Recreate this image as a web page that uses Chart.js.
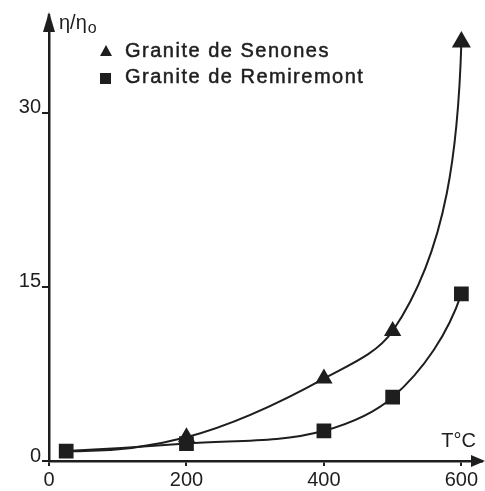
<!DOCTYPE html>
<html>
<head>
<meta charset="utf-8">
<script src="https://cdn.jsdelivr.net/npm/chart.js@4.4.1/dist/chart.umd.min.js"></script>
<style>
  html, body { margin: 0; padding: 0; background: #fff; }
  #wrap { width: 485px; height: 491px; }
</style>
</head>
<body>
<div id="wrap"><canvas id="viscChart"></canvas></div>
<script>
// temperature (°C) and relative viscosity
const tempSenones = [25, 200, 400, 500, 600];
const viscSenones = [0.86, 2.05, 7.1, 11.2, 36.1];
const tempRemiremont = [25, 200, 400, 500, 600];
const viscRemiremont = [0.86, 1.5, 2.6, 5.5, 14.4];
const xTicks = [0, 200, 400, 600];
const yTicks = [0, 15, 30];
const seriesNames = ['Granite de Senones', 'Granite de Remiremont'];

const ink = '#1e1e1e';
const font = 'Liberation Sans, Arial, sans-serif';

const toPoints = (xs, ys) => xs.map((x, i) => ({x: x, y: ys[i]}));

// french-curve look: tangent = mean of the two chord angles,
// end tangents mirrored about the last chord
const smoothCurve = {
    id: 'smoothCurve',
    beforeDatasetDraw: (chart, args) => {
        const meta = args.meta;
        const pts = meta.data;
        const n = pts.length;
        if (n < 3) return;
        const chord = (a, b) => Math.atan2(b.y - a.y, b.x - a.x);
        const ang = [];
        for (let i = 1; i < n - 1; i++) {
            ang[i] = (chord(pts[i - 1], pts[i]) + chord(pts[i], pts[i + 1])) / 2;
        }
        ang[0] = 2 * chord(pts[0], pts[1]) - ang[1];
        ang[n - 1] = Math.max(2 * chord(pts[n - 2], pts[n - 1]) - ang[n - 2], -Math.PI / 2 + 0.03);
        pts.forEach((p, i) => {
            const back = i > 0 ? Math.hypot(p.x - pts[i - 1].x, p.y - pts[i - 1].y) / 3 : 0;
            const fwd = i < n - 1 ? Math.hypot(pts[i + 1].x - p.x, pts[i + 1].y - p.y) / 3 : 0;
            p.cp1x = p.x - Math.cos(ang[i]) * back;
            p.cp1y = p.y - Math.sin(ang[i]) * back;
            p.cp2x = p.x + Math.cos(ang[i]) * fwd;
            p.cp2y = p.y + Math.sin(ang[i]) * fwd;
        });
        meta.dataset._pointsUpdated = true;
    }
};

const axisDecor = {
    id: 'axisDecor',
    afterDraw: (chart) => {
        const {ctx, chartArea: {left, right, top, bottom}} = chart;
        ctx.save();
        ctx.fillStyle = ink;
        ctx.strokeStyle = ink;
        ctx.lineWidth = 2.5;
        // y axis extension and arrow
        ctx.beginPath();
        ctx.moveTo(left, top);
        ctx.lineTo(left, top - 6);
        ctx.stroke();
        ctx.beginPath();
        ctx.moveTo(left, top - 8);
        ctx.lineTo(left - 6, top + 12);
        ctx.lineTo(left + 6, top + 12);
        ctx.closePath();
        ctx.fill();
        // x axis arrow
        ctx.beginPath();
        ctx.moveTo(right + 3, bottom);
        ctx.lineTo(right - 11, bottom - 6);
        ctx.lineTo(right - 11, bottom + 6);
        ctx.closePath();
        ctx.fill();

        // axis titles
        ctx.font = '20px ' + font;
        ctx.textBaseline = 'alphabetic';
        ctx.textAlign = 'left';
        ctx.fillText('η/η', left + 10, top + 9);
        const w = ctx.measureText('η/η').width;
        ctx.font = '16px ' + font;
        ctx.fillText('o', left + 11 + w, top + 13);

        ctx.font = '20px ' + font;
        ctx.textAlign = 'right';
        ctx.fillText('T°C', right - 6, bottom - 14);

        // legend
        ctx.font = '20px ' + font;
        ctx.letterSpacing = '1.5px';
        ctx.textAlign = 'left';
        ctx.lineWidth = 0.5;
        chart.data.datasets.forEach((ds, i) => {
            const y = 52 + i * 26;
            ctx.beginPath();
            if (ds.pointStyle === 'triangle') {
                ctx.moveTo(106, y - 7);
                ctx.lineTo(112, y + 4);
                ctx.lineTo(100, y + 4);
                ctx.closePath();
            } else {
                ctx.rect(100, y - 5, 11, 11);
            }
            ctx.fill();
            ctx.fillText(ds.label, 125, y + 5);
            ctx.strokeText(ds.label, 125, y + 5);
        });
        ctx.restore();
    }
};

Chart.defaults.font.family = font;
Chart.defaults.color = ink;

new Chart(document.getElementById('viscChart').getContext('2d'), {
    type: 'line',
    data: {
        datasets: [
            {
                label: seriesNames[0],
                data: toPoints(tempSenones, viscSenones),
                pointStyle: 'triangle',
                pointRadius: [0, 8, 8, 8, 9],
                borderColor: ink,
                backgroundColor: ink,
                borderWidth: 2,
                tension: 0.3,
                clip: false,
            },
            {
                label: seriesNames[1],
                data: toPoints(tempRemiremont, viscRemiremont),
                pointStyle: 'rect',
                pointRadius: 9,
                borderColor: ink,
                backgroundColor: ink,
                borderWidth: 2,
                tension: 0.3,
                clip: false,
            },
        ]
    },
    options: {
        responsive: true,
        maintainAspectRatio: false,
        animation: false,
        layout: {autoPadding: false, padding: {top: 20, right: 3, left: 0, bottom: 0}},
        plugins: {
            legend: {display: false},
            tooltip: {enabled: false},
        },
        scales: {
            x: {
                type: 'linear',
                min: 0,
                max: 630,
                afterBuildTicks: (scale) => { scale.ticks = xTicks.map(v => ({value: v})); },
                afterFit: (scale) => {
                    scale.height = 30;
                    scale.paddingLeft = 0;
                    scale.paddingRight = 0;
                },
                grid: {drawOnChartArea: false, tickLength: 5, color: ink, lineWidth: 2},
                border: {color: ink, width: 2.5},
                ticks: {font: {size: 20}, padding: 2, maxRotation: 0, color: ink},
            },
            y: {
                min: 0,
                max: 38,
                afterBuildTicks: (scale) => { scale.ticks = yTicks.map(v => ({value: v})); },
                afterFit: (scale) => {
                    scale.width = 49;
                    scale.paddingTop = 0;
                    scale.paddingBottom = 0;
                },
                grid: {drawOnChartArea: false, tickLength: 7, color: ink, lineWidth: 2},
                border: {color: ink, width: 2.5},
                ticks: {font: {size: 20}, padding: 1, labelOffset: -5, color: ink},
            }
        }
    },
    plugins: [smoothCurve, axisDecor]
});
</script>
</body>
</html>
